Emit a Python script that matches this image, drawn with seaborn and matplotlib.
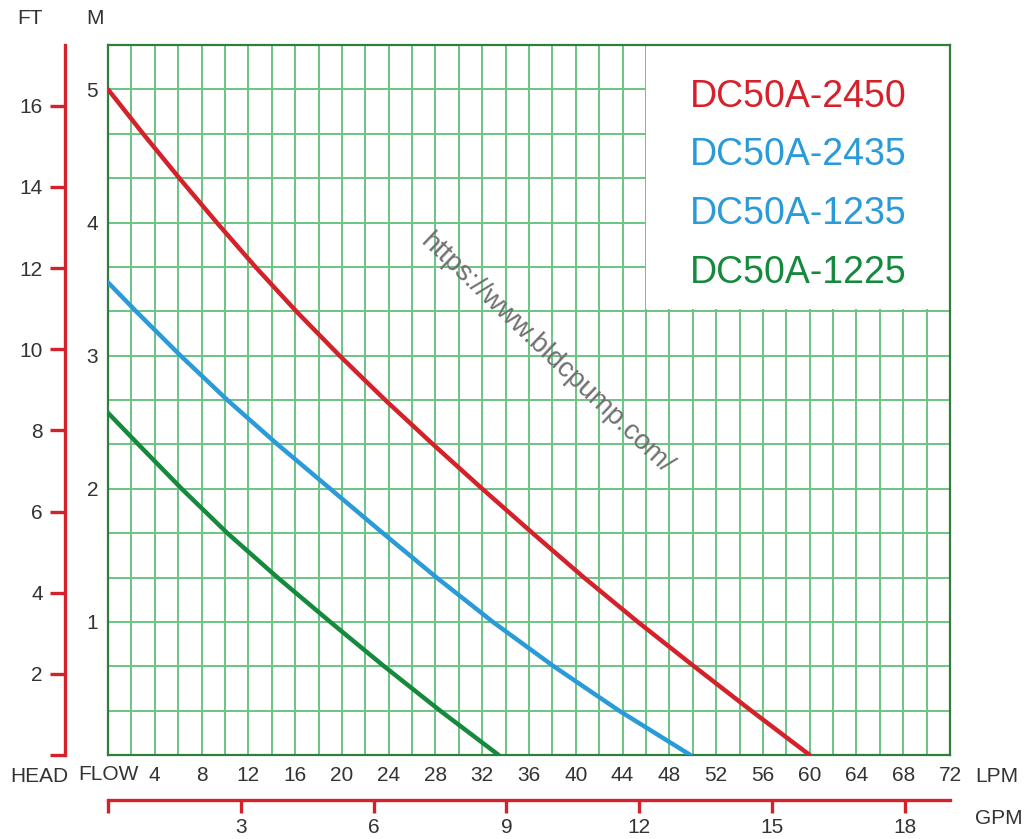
import numpy as np
import pandas as pd
import matplotlib
matplotlib.use("Agg")
import matplotlib.pyplot as plt
import seaborn as sns

# 読み取った曲線データ (流量 LPM, 揚程 M)
flow_2450 = [0, 3.0, 6.1, 9.3, 12.6, 16.1, 19.8, 23.7, 27.8, 32.0, 36.3, 40.7, 45.3, 50.1, 55.0, 60.0]
head_2450 = [5.0, 4.667, 4.333, 4.0, 3.667, 3.333, 3.0, 2.667, 2.333, 2.0, 1.667, 1.333, 1.0, 0.667, 0.333, 0.0]

flow_2435 = [0, 2.4, 6.2, 10.2, 14.5, 19.0, 23.5, 28.1, 32.9, 38.1, 43.7, 49.8]
head_2435 = [3.55, 3.333, 3.0, 2.667, 2.333, 2.0, 1.667, 1.333, 1.0, 0.667, 0.333, 0.0]

flow_1225 = [0, 2.6, 6.3, 10.2, 14.5, 19.0, 23.6, 28.4, 33.4]
head_1225 = [2.57, 2.333, 2.0, 1.667, 1.333, 1.0, 0.667, 0.333, 0.0]

models = ["DC50A-2450", "DC50A-2435", "DC50A-1235", "DC50A-1225"]
model_colors = ["#d5212a", "#2a9ad8", "#2a9ad8", "#15893c"]

lpm_ticks = list(range(4, 73, 4))
m_ticks = [1, 2, 3, 4, 5]
ft_ticks = [0, 2, 4, 6, 8, 10, 12, 14, 16]
gpm_ticks = [0, 3, 6, 9, 12, 15, 18]

df = pd.concat([
    pd.DataFrame({"flow": flow_2450, "head": head_2450, "model": "DC50A-2450"}),
    pd.DataFrame({"flow": flow_2435, "head": head_2435, "model": "DC50A-2435"}),
    pd.DataFrame({"flow": flow_1225, "head": head_1225, "model": "DC50A-1225"}),
])

sns.set_style("white")
plt.rcParams["font.family"] = ["Liberation Sans", "DejaVu Sans"]

W, H = 1027, 839
txt = "#333333"
red = "#d5212a"
grid_c = "#6cc483"
frame_c = "#2f7f3a"
fs = 15

fig = plt.figure(figsize=(W / 100, H / 100), dpi=100)
fig.patch.set_facecolor("white")

# メインのグラフ (px 108..950, 45..755)
ax = fig.add_axes([108 / W, 1 - 755 / H, 842 / W, 710 / H])
ymax = 16 / 3
ax.set_xlim(0, 72)
ax.set_ylim(0, ymax)
ax.set_axisbelow(True)

ax.set_xticks(lpm_ticks)
ax.set_xticklabels([str(t) for t in lpm_ticks])
ax.set_xticks(np.arange(0, 73, 2), minor=True)
ax.set_yticks(m_ticks)
ax.set_yticklabels([str(t) for t in m_ticks])
ax.set_yticks(np.arange(0, 16) / 3, minor=True)
ax.grid(True, which="both", color=grid_c, lw=1.4)
ax.tick_params(which="both", length=0)
ax.tick_params(axis="x", labelsize=fs, labelcolor=txt, pad=8)
ax.tick_params(axis="y", labelsize=fs, labelcolor=txt, pad=7)
for s in ax.spines.values():
    s.set_color(frame_c)
    s.set_linewidth(1.6)

pal = {"DC50A-2450": model_colors[0], "DC50A-2435": model_colors[1],
       "DC50A-1225": model_colors[3]}
sns.lineplot(data=df, x="flow", y="head", hue="model", palette=pal,
             lw=3.2, legend=False, ax=ax, zorder=3)
ax.set_xlabel("")
ax.set_ylabel("")

# 凡例エリアの白い四角
ax.add_patch(plt.Rectangle((46, 10 / 3 + 0.015), 26, ymax, facecolor="white",
                           edgecolor="none", zorder=1))

for name, c, py in zip(models, model_colors, [97, 155, 214, 273]):
    fig.text(690 / W, 1 - py / H, name, color=c, fontsize=27, ha="left", va="center")

# 透かし
ax.text(37.45, 3.016, "https://www.bldcpump.com/", color="#707070", fontsize=20,
        rotation=-43.5, rotation_mode="anchor", ha="center", va="center", zorder=2)

# FT 軸 (左の赤い線)
ax_ft = fig.add_axes([65 / W, 1 - 755 / H, 0.0001, 710 / H])
ax_ft.set_ylim(0, ymax / 0.3048)
ax_ft.set_yticks(ft_ticks)
ax_ft.set_yticklabels([""] + [str(t) for t in ft_ticks[1:]])
ax_ft.set_xticks([])
ax_ft.patch.set_visible(False)
for k in ["right", "top", "bottom"]:
    ax_ft.spines[k].set_visible(False)
ax_ft.spines["left"].set_color(red)
ax_ft.spines["left"].set_linewidth(2.4)
ax_ft.tick_params(axis="y", left=True, direction="out", length=11, width=2.4,
                  color=red, labelcolor=txt, labelsize=fs, pad=5)

# GPM 軸 (下の赤い線)
ax_g = fig.add_axes([108 / W, 1 - 800 / H, 842 / W, 0.0001])
ax_g.set_xlim(0, 72 / 3.78541)
ax_g.set_xticks(gpm_ticks)
ax_g.set_xticklabels([""] + [str(t) for t in gpm_ticks[1:]])
ax_g.set_yticks([])
ax_g.patch.set_visible(False)
for k in ["right", "top", "left"]:
    ax_g.spines[k].set_visible(False)
ax_g.spines["bottom"].set_color(red)
ax_g.spines["bottom"].set_linewidth(2.4)
ax_g.tick_params(axis="x", bottom=True, direction="out", length=9, width=2.4,
                 color=red, labelcolor=txt, labelsize=fs, pad=4)

# 軸ラベル
fig.text(30 / W, 1 - 18 / H, "FT", fontsize=fs, color=txt, ha="center", va="center")
fig.text(95 / W, 1 - 18 / H, "M", fontsize=fs, color=txt, ha="center", va="center")
fig.text(10 / W, 1 - 777 / H, "HEAD", fontsize=fs, color=txt, ha="left", va="center")
fig.text(78 / W, 1 - 774 / H, "FLOW", fontsize=fs, color=txt, ha="left", va="center")
fig.text(975 / W, 1 - 776 / H, "LPM", fontsize=fs, color=txt, ha="left", va="center")
fig.text(975 / W, 1 - 818 / H, "GPM", fontsize=fs, color=txt, ha="left", va="center")

fig.savefig("out.png", dpi=100, facecolor="white")
